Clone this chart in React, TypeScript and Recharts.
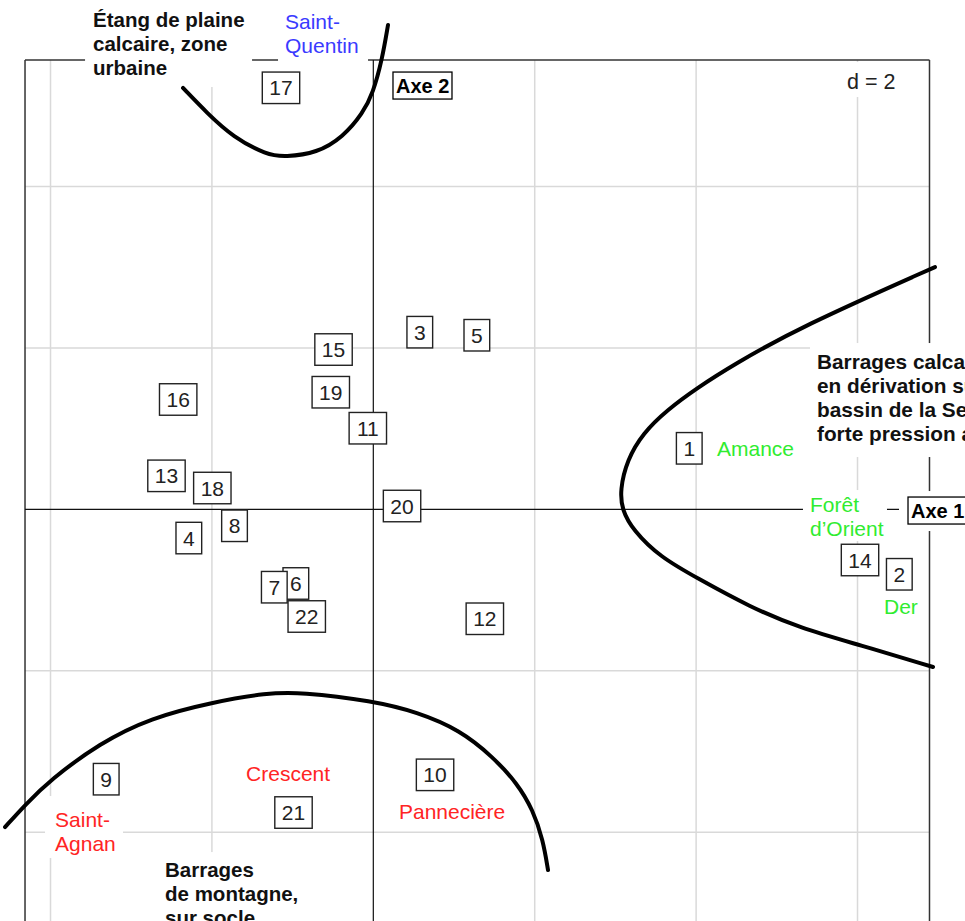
import React from 'react';
import { ScatterChart, Scatter, XAxis, YAxis, ReferenceLine, Curve } from 'recharts';

// ---- Site scores on the first factorial plane (axis 1, axis 2) ----
const siteIds = [
  '1', '2', '3', '4', '5', '6', '7', '8', '9', '10', '11',
  '12', '13', '14', '15', '16', '17', '18', '19', '20', '21', '22',
];
const axis1Scores = [
  3.915, 6.518, 0.576, -2.286, 1.283, -0.96, -1.227, -1.72, -3.31, 0.765, -0.068,
  1.382, -2.563, 6.031, -0.493, -2.418, -1.144, -1.995, -0.527, 0.356, -0.989, -0.825,
];
const axis2Scores = [
  0.756, -0.805, 2.195, -0.356, 2.157, -0.919, -0.965, -0.204, -3.344, -3.29, 1.005,
  -1.356, 0.415, -0.628, 1.98, 1.361, 5.223, 0.264, 1.451, 0.041, -3.757, -1.328,
];

// ---- Hand-drawn group outlines (axis 1, axis 2) ----
const limestoneUrbanX = [-2.358, -2.061, -1.739, -1.317, -1.094, -0.698, -0.375, -0.128, -0.004, 0.108, 0.182];
const limestoneUrbanY = [5.221, 4.911, 4.613, 4.39, 4.366, 4.415, 4.613, 4.911, 5.159, 5.568, 6.001];

const derivationX = [6.96, 5.288, 4.457, 4.011, 3.639, 3.342, 3.144, 3.057, 3.082, 3.218, 3.553, 4.011, 4.668, 5.288, 6.031, 6.936];
const derivationY = [3.002, 2.259, 1.788, 1.503, 1.23, 0.945, 0.611, 0.239, -0.009, -0.257, -0.591, -0.851, -1.211, -1.471, -1.682, -1.954];

const mountainX = [-4.564, -4.316, -4.006, -3.387, -2.767, -1.986, -1.317, -0.908, -0.004, 0.542, 1.074, 1.483, 1.781, 1.979, 2.103, 2.165];
const mountainY = [-3.937, -3.664, -3.354, -2.896, -2.586, -2.388, -2.276, -2.264, -2.375, -2.512, -2.735, -3.069, -3.392, -3.726, -4.098, -4.47];

// ---- Grid (d = 2) ----
const gridX = [-4, -2, 2, 4, 6];
const gridY = [-4, -2, 2, 4];

// ---- Plot window ----
const CHART_W = 965;
const CHART_H = 1000;
const X_DOMAIN: [number, number] = [-4.626, 7.332];
const Y_DOMAIN: [number, number] = [-6.08, 6.311];
const FRAME = { x1: -4.316, x2: 6.892, y1: -5.6, y2: 5.568 };

const FONT = '"Liberation Sans", Arial, Helvetica, sans-serif';

const sites = siteIds.map((id, i) => ({ x: axis1Scores[i], y: axis2Scores[i], id }));
const toPoints = (xs: number[], ys: number[]) => xs.map((x, i) => ({ x, y: ys[i] }));
const curves = [
  toPoints(limestoneUrbanX, limestoneUrbanY),
  toPoints(derivationX, derivationY),
  toPoints(mountainX, mountainY),
];

// ---- Annotation layout: anchor in plot units, white backing / box offsets in px ----
type NoteKind = 'group' | 'blue' | 'green' | 'red' | 'scale' | 'axis';
type Note = {
  x: number;
  y: number;
  kind: NoteKind;
  lines: string[];
  size?: number;
  bg?: [number, number, number, number];
  box?: [number, number, number, number];
};

const notes: Note[] = [
  { x: -3.473, y: 6.063, kind: 'group', lines: ['Étang de plaine', 'calcaire, zone', 'urbaine'], bg: [-8, -21, 167, 88] },
  { x: -1.094, y: 6.038, kind: 'blue', lines: ['Saint-', 'Quentin'], bg: [-7, -23, 90, 65] },
  {
    x: 5.498, y: 1.825, kind: 'group', size: 20.8,
    lines: ['Barrages calcaires', 'en dérivation sur le', 'bassin de la Seine,', 'forte pression agricole'],
    bg: [-7, -19, 260, 114],
  },
  { x: 5.411, y: 0.053, kind: 'green', lines: ['Forêt', 'd’Orient'], bg: [-7, -15, 84, 51] },
  { x: 4.259, y: 0.747, kind: 'green', lines: ['Amance'] },
  { x: 6.328, y: -1.211, kind: 'green', lines: ['Der'] },
  { x: -1.577, y: -3.28, kind: 'red', lines: ['Crescent'] },
  { x: 0.318, y: -3.751, kind: 'red', lines: ['Pannecière'] },
  { x: -3.944, y: -3.85, kind: 'red', lines: ['Saint-', 'Agnan'], bg: [-10, -24, 78, 62] },
  { x: -2.581, y: -4.47, kind: 'group', lines: ['Barrages', 'de montagne,', 'sur socle'], bg: [-8, -18, 178, 90] },
  { x: 5.87, y: 5.307, kind: 'scale', lines: ['d = 2'], bg: [-9, -19, 90, 35] },
  { x: 0.281, y: 5.251, kind: 'axis', lines: ['Axe 2'], box: [-3, -13.5, 59, 27] },
  { x: 6.663, y: -0.015, kind: 'axis', lines: ['Axe 1'], bg: [-12, -19.5, 80, 40], box: [-3, -13.5, 60, 27] },
];

const noteStyle: Record<NoteKind, { size: number; weight: number; color: string; lh: number }> = {
  group: { size: 20.5, weight: 700, color: '#111', lh: 24 },
  blue: { size: 21, weight: 400, color: '#3a3aff', lh: 23.5 },
  green: { size: 21, weight: 400, color: '#30ec30', lh: 23.5 },
  red: { size: 21, weight: 400, color: '#ff2424', lh: 23.5 },
  scale: { size: 21.5, weight: 400, color: '#222', lh: 24 },
  axis: { size: 20, weight: 700, color: '#000', lh: 24 },
};

const SiteBox = (props: any) => {
  const { cx, cy, payload } = props;
  const fs = 21;
  const w = payload.id.length * 11.7 + 14;
  const h = 31.5;
  return (
    <g>
      <rect x={cx - w / 2} y={cy - h / 2} width={w} height={h} fill="#fff" stroke="#222" strokeWidth={1.4} />
      <text x={cx} y={cy + fs * 0.36} textAnchor="middle" fontFamily={FONT} fontSize={fs} fill="#222">
        {payload.id}
      </text>
    </g>
  );
};

const NoteMark = (props: any) => {
  const { cx, cy, payload } = props;
  const s = noteStyle[payload.kind as NoteKind];
  const size = payload.size ?? s.size;
  return (
    <g>
      {payload.bg && (
        <rect x={cx + payload.bg[0]} y={cy + payload.bg[1]} width={payload.bg[2]} height={payload.bg[3]} fill="#fff" />
      )}
      {payload.box && (
        <rect
          x={cx + payload.box[0]}
          y={cy + payload.box[1]}
          width={payload.box[2]}
          height={payload.box[3]}
          fill="#fff"
          stroke="#000"
          strokeWidth={1.3}
        />
      )}
      {payload.lines.map((t: string, i: number) => (
        <text
          key={i}
          x={cx}
          y={cy + i * s.lh + size * 0.35}
          fontFamily={FONT}
          fontSize={size}
          fontWeight={s.weight}
          fill={s.color}
        >
          {t}
        </text>
      ))}
    </g>
  );
};

const NoMark = () => <g />;

// Smooth outline through the scaled points of a group curve
const SmoothOutline = (props: any) => (
  <Curve
    points={props.points}
    type="basis"
    fill="none"
    stroke="#000"
    strokeWidth={4}
    strokeLinecap="round"
    strokeLinejoin="round"
  />
);

export default function App() {
  return (
    <div
      style={{
        position: 'absolute',
        left: 0,
        top: 0,
        width: 965,
        height: 921,
        overflow: 'hidden',
        background: '#fff',
      }}
    >
      <ScatterChart width={CHART_W} height={CHART_H} margin={{ top: 0, right: 0, bottom: 0, left: 0 }}>
        <XAxis type="number" dataKey="x" domain={X_DOMAIN} allowDataOverflow hide />
        <YAxis type="number" dataKey="y" domain={Y_DOMAIN} allowDataOverflow hide />

        {gridX.map((gx) => (
          <ReferenceLine
            key={'gx' + gx}
            segment={[{ x: gx, y: FRAME.y1 }, { x: gx, y: FRAME.y2 }]}
            stroke="#d9d9d9"
            strokeWidth={1.5}
          />
        ))}
        {gridY.map((gy) => (
          <ReferenceLine
            key={'gy' + gy}
            segment={[{ x: FRAME.x1, y: gy }, { x: FRAME.x2, y: gy }]}
            stroke="#d9d9d9"
            strokeWidth={1.5}
          />
        ))}

        <ReferenceLine segment={[{ x: FRAME.x1, y: FRAME.y2 }, { x: FRAME.x2, y: FRAME.y2 }]} stroke="#333" strokeWidth={1.5} />
        <ReferenceLine segment={[{ x: FRAME.x1, y: FRAME.y1 }, { x: FRAME.x2, y: FRAME.y1 }]} stroke="#333" strokeWidth={1.5} />
        <ReferenceLine segment={[{ x: FRAME.x1, y: FRAME.y1 }, { x: FRAME.x1, y: FRAME.y2 }]} stroke="#333" strokeWidth={1.5} />
        <ReferenceLine segment={[{ x: FRAME.x2, y: FRAME.y1 }, { x: FRAME.x2, y: FRAME.y2 }]} stroke="#333" strokeWidth={1.5} />

        <ReferenceLine segment={[{ x: 0, y: FRAME.y1 }, { x: 0, y: FRAME.y2 }]} stroke="#111" strokeWidth={1.2} />
        <ReferenceLine segment={[{ x: FRAME.x1, y: 0 }, { x: FRAME.x2, y: 0 }]} stroke="#111" strokeWidth={1.2} />

        <Scatter data={sites} shape={SiteBox} isAnimationActive={false} />
        <Scatter data={notes} shape={NoteMark} isAnimationActive={false} />

        {curves.map((pts, i) => (
          <Scatter
            key={'curve' + i}
            data={pts}
            fill="none"
            shape={NoMark}
            line={SmoothOutline}
            lineType="joint"
            isAnimationActive={false}
          />
        ))}
      </ScatterChart>
    </div>
  );
}
